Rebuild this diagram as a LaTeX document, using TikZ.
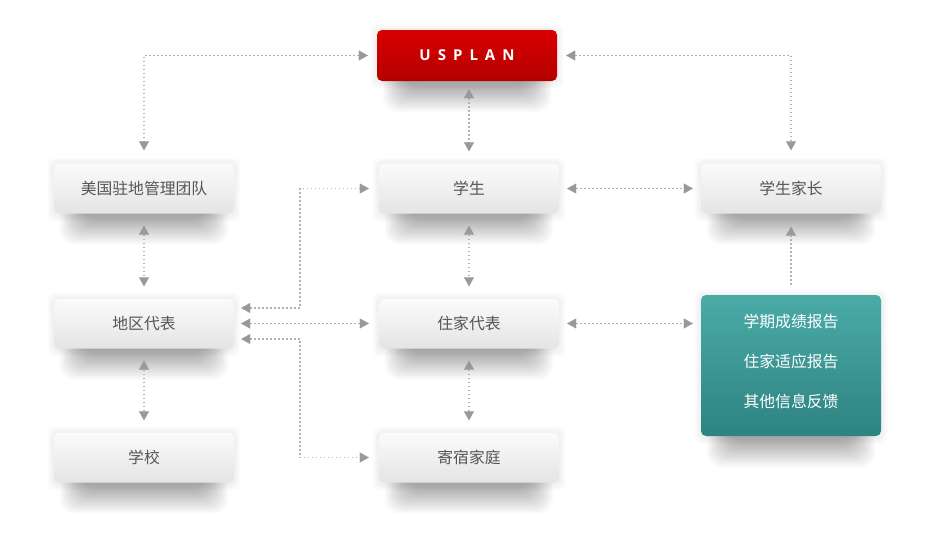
\documentclass[tikz,border=0pt]{standalone}
\usepackage{fontspec}
\newfontfamily\cjk{Noto Sans CJK SC}
\newfontfamily\usp{Open Sans}
\usetikzlibrary{arrows.meta,calc}
\pgfdeclarelayer{bglayer}
\pgfdeclarelayer{shadowlayer}
\pgfsetlayers{bglayer,shadowlayer,main}
\definecolor{boxtop}{HTML}{FBFBFB}
\definecolor{boxbot}{HTML}{E4E4E4}
\definecolor{redtop}{HTML}{D80000}
\definecolor{redbot}{HTML}{B40000}
\definecolor{tealtop}{HTML}{4AABA7}
\definecolor{tealbot}{HTML}{2E8382}
\definecolor{txtgray}{HTML}{555555}
\definecolor{linegray}{HTML}{B2B2B2}
\definecolor{tipgray}{HTML}{999999}
\tikzset{
  graybox/.style={rounded corners=5pt, minimum width=180pt, minimum height=50pt, top color=boxtop, bottom color=boxbot, text=txtgray, font=\cjk\fontsize{15.8}{18}\selectfont, inner sep=0pt},
  redbox/.style={rounded corners=5pt, minimum width=180pt, minimum height=51pt, top color=redtop, bottom color=redbot, text=white, font=\usp\bfseries\fontsize{15}{17}\selectfont, inner sep=0pt},
  tealbox/.style={rounded corners=5pt, minimum width=180pt, minimum height=141pt, top color=tealtop, bottom color=tealbot, text=white, font=\cjk\fontsize{15.8}{18}\selectfont, inner sep=0pt, align=center},
  tip/.tip={Triangle[width=10pt,length=9pt,line width=0.1pt,color=tipgray]},
  conn/.style={draw=linegray, line width=1.6pt, dash pattern=on 1.6pt off 2.4pt, tip-tip},
  vconn/.style={conn, shorten <=12pt, shorten >=12pt},
  hconn/.style={conn, shorten <=8pt, shorten >=8pt},
}
\newcommand\mkshadow[1]{%
  \begin{pgfonlayer}{shadowlayer}
    \foreach \j in {1,...,5}{
      \fill[black, opacity=0.011, rounded corners=7pt]
        ($(#1.south west)+(-1.3*\j,1+1.4*\j)$) rectangle ($(#1.north east)+(1.3*\j,1-1.3*\j)$);
    }
    \foreach \i in {0,...,19}{
      \fill[black, opacity=0.016, rounded corners=14pt]
        ($(#1.south west)+(6+1.25*\i,-12)$) rectangle ($(#1.south east)+(-6-1.25*\i,31-1.3*\i)$);
    }
  \end{pgfonlayer}}
\begin{document}
\begin{tikzpicture}[x=1pt,y=-1pt]
\useasboundingbox (0,0) rectangle (935,533);
\begin{pgfonlayer}{bglayer}
\fill[white] (0,0) rectangle (935,533);
\end{pgfonlayer}
\node[redbox] (usplan) at (467,55.5) {U\kern7pt S\kern7pt P\kern7pt L\kern7pt A\kern7pt N};
\node[graybox] (team) at (144,188.5) {美国驻地管理团队};
\node[graybox] (stu) at (469,188.5) {学生};
\node[graybox] (par) at (791,188.5) {学生家长};
\node[graybox] (reg) at (144,323.5) {地区代表};
\node[graybox] (home) at (469,323.5) {住家代表};
\node[tealbox] (rep) at (791,365.5) {学期成绩报告\\[22pt]住家适应报告\\[22pt]其他信息反馈\rule[-9pt]{0pt}{9pt}};
\node[graybox] (school) at (144,457.5) {学校};
\node[graybox] (host) at (469,457.5) {寄宿家庭};
\mkshadow{usplan}
\mkshadow{team}
\mkshadow{stu}
\mkshadow{par}
\mkshadow{reg}
\mkshadow{home}
\mkshadow{rep}
\mkshadow{school}
\mkshadow{host}
% connectors
\draw[conn, shorten <=9pt, shorten >=13pt] (usplan.west) -| (team.north);
\draw[conn, shorten <=9pt, shorten >=13pt] (usplan.east) -| (par.north);
\draw[vconn, shorten <=8pt] (stu.north |- usplan.south) -- (stu.north);
\draw[hconn] (stu.east) -- (par.west);
\draw[vconn] (stu.south) -- (home.north);
\draw[conn, -tip, shorten <=10pt, shorten >=13pt] (rep.north) -- (par.south);
\draw[hconn] (home.east) -- (home.east -| rep.west);
\draw[vconn] (team.south) -- (reg.north);
\draw[vconn] (reg.south) -- (school.north);
\draw[vconn] (home.south) -- (host.north);
\draw[conn, shorten <=7pt, shorten >=10pt] ([yshift=15.5pt]reg.east) -- ++(66,0) |- (stu.west);
\draw[hconn, shorten <=7pt, shorten >=10pt] (reg.east) -- (home.west);
\draw[conn, shorten <=7pt, shorten >=10pt] ([yshift=-15.5pt]reg.east) -- ++(66,0) |- (host.west);
\end{tikzpicture}
\end{document}
